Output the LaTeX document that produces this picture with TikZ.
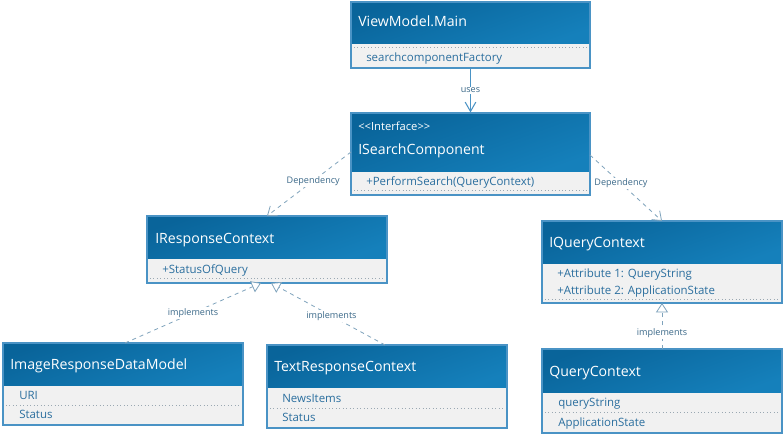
\documentclass[tikz,border=0pt]{standalone}
\usepackage{fontspec}
\setmainfont{Open Sans}
\usetikzlibrary{fit,arrows.meta}
\definecolor{hdrtop}{HTML}{09649A}
\definecolor{hdrbot}{HTML}{1580BB}
\definecolor{boxline}{HTML}{4A93C5}
\definecolor{compfill}{HTML}{F1F1F1}
\definecolor{attrtxt}{HTML}{2A6E9E}
\definecolor{lbltxt}{HTML}{3A6888}
\definecolor{conn}{HTML}{7FA3BC}
\definecolor{sepline}{HTML}{9AA8B2}
\tikzset{
  classbody/.style={draw=boxline,fill=compfill,inner sep=0pt,line width=0.8pt},
  title/.style={anchor=base west,inner sep=0pt,text=white,font=\fontsize{10.6}{12}\selectfont},
  stereo/.style={anchor=base west,inner sep=0pt,text=white,font=\fontsize{8.4}{10}\selectfont},
  attr/.style={anchor=base west,inner sep=0pt,text=attrtxt,font=\fontsize{8.6}{10}\selectfont},
  lbl/.style={fill=white,inner sep=1pt,text=lbltxt,font=\fontsize{6.8}{8}\selectfont},
  dep/.style={draw=conn,dashed,line width=0.6pt,-{Straight Barb[length=6pt,width=9pt]}},
  real/.style={draw=conn,dashed,line width=0.6pt,-{Triangle[open,length=7pt,width=9pt,fill=white]}},
  assoc/.style={draw=boxline,line width=0.8pt,-{Straight Barb[length=7pt,width=8pt]}},
  dotsep/.style={draw=sepline,dotted,line width=0.6pt},
}
\newcommand{\umlclass}[6]{%
  \node[classbody,fit={(#2,#3)(#4,#5)}] (#1) {};
  \shade[top color=hdrtop,bottom color=hdrbot,shading angle=20] (#2,#3) rectangle (#4,#6);
  \draw[boxline,line width=0.8pt] (#2,#3) rectangle (#4,#5);
}
\begin{document}
\begin{tikzpicture}[x=0.75pt,y=-0.75pt]
\useasboundingbox[fill=white] (0,0) rectangle (783,436);

% classes
\umlclass{vm}{351}{2}{590}{68}{43}
\node[title] (vmt) at (358,26) {ViewModel.Main};
\draw[dotsep] (354,47) -- (587,47);
\node[attr] (vma) at (366,61) {searchcomponentFactory};

\umlclass{isc}{351}{113}{590}{195}{171}
\node[stereo] (iscs) at (358,130) {<{}<Interface>{}>};
\node[title] (isct) at (358,154) {ISearchComponent};
\node[attr] (isca) at (366,185) {+PerformSearch(QueryContext)};
\draw[dotsep] (354,190) -- (587,190);

\umlclass{irc}{147}{216}{387}{283}{258}
\node[title] (irct) at (155,243) {IResponseContext};
\node[attr] (irca) at (162,273) {+StatusOfQuery};
\draw[dotsep] (150,278) -- (384,278);

\umlclass{iqc}{542}{221}{782}{303}{263}
\node[title] (iqct) at (549,247) {IQueryContext};
\node[attr] (iqca) at (557,277) {+Attribute 1: QueryString};
\node[attr] (iqcb) at (557,294) {+Attribute 2: ApplicationState};
\draw[dotsep] (545,299) -- (779,299);

\umlclass{qc}{542}{349}{782}{433}{392}
\node[title] (qct) at (549,376) {QueryContext};
\node[attr] (qca) at (558,406) {queryString};
\draw[dotsep] (545,412) -- (779,412);
\node[attr] (qcb) at (558,426) {ApplicationState};

\umlclass{img}{3}{343}{243}{425}{385}
\node[title] (imgt) at (10,369) {ImageResponseDataModel};
\node[attr] (imga) at (19,399) {URI};
\draw[dotsep] (6,405) -- (240,405);
\node[attr] (imgb) at (19,418) {Status};

\umlclass{txt}{267}{345}{507}{428}{387}
\node[title] (txtt) at (274,371) {TextResponseContext};
\node[attr] (txta) at (282,402) {NewsItems};
\draw[dotsep] (270,408) -- (504,408);
\node[attr] (txtb) at (282,421) {Status};

% connectors
\coordinate (iscL) at (351,152);
\coordinate (iscR) at (590,155);
\coordinate (ircT) at (267,216);
\coordinate (iqcT) at (662,221);
\coordinate (ircB1) at (261,283);
\coordinate (ircB2) at (271,283);
\coordinate (imgT) at (125,343);
\coordinate (txtT) at (385,345);
\coordinate (qcT) at (662,349);
\coordinate (iqcB) at (662,303);

\draw[assoc] (vm.south) -- node[lbl,pos=0.5] {uses} (isc.north);
\draw[dep] (iscL) -- node[lbl,pos=0.45] {Dependency} (ircT);
\draw[dep] (iscR) -- node[lbl,pos=0.43] {Dependency} (iqcT);
\draw[real] (imgT) -- node[lbl,pos=0.5] {implements} (ircB1);
\draw[real] (txtT) -- node[lbl,pos=0.47] {implements} (ircB2);
\draw[real] (qcT) -- node[lbl,pos=0.35] {implements} (iqcB);
\end{tikzpicture}
\end{document}
